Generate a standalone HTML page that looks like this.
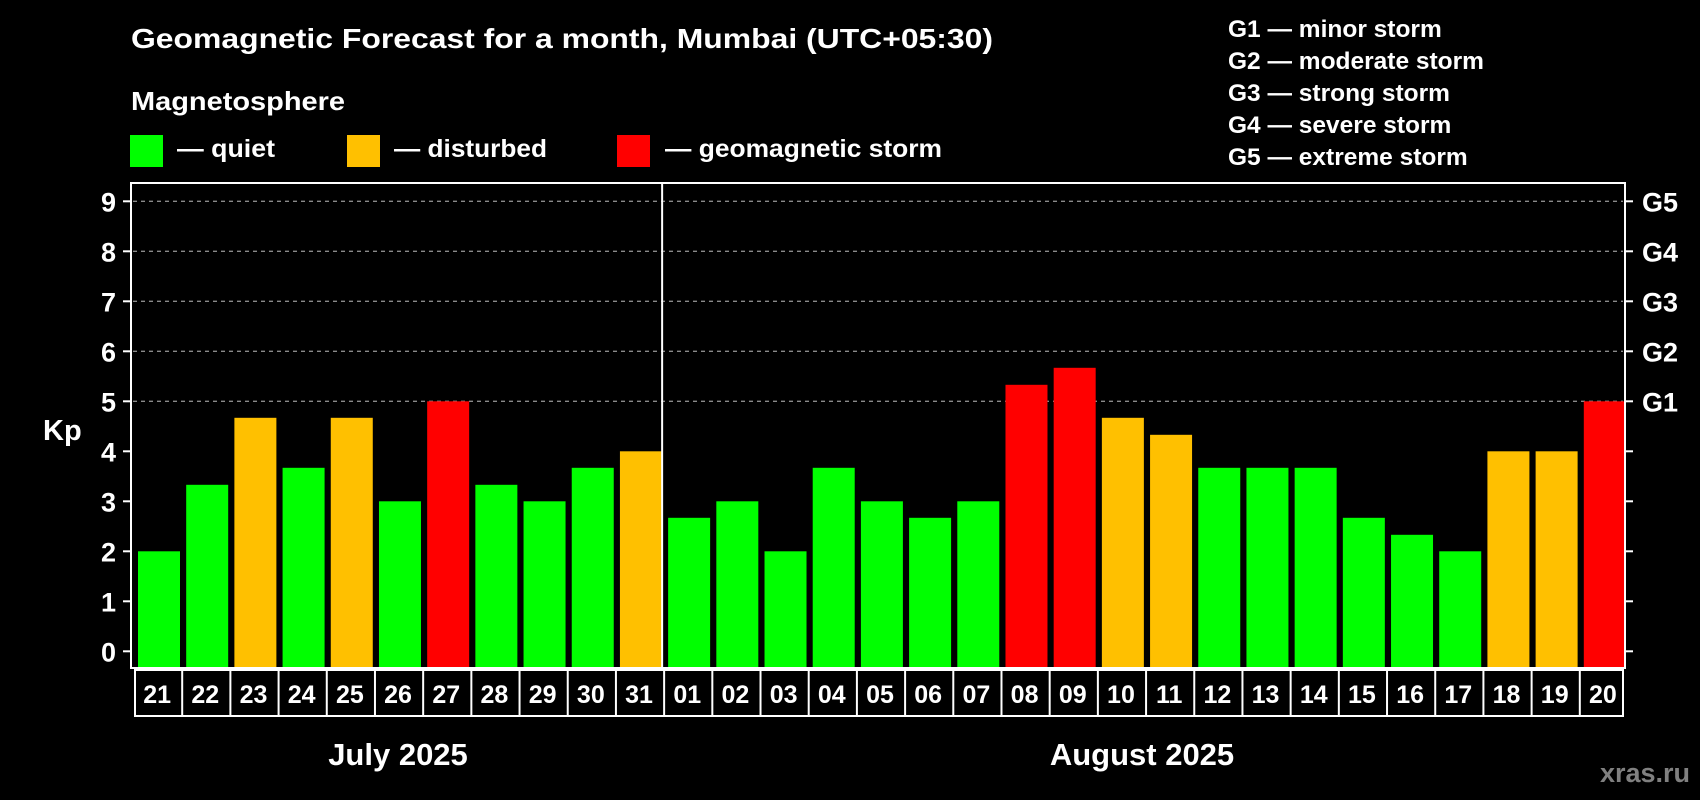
<!DOCTYPE html>
<html><head><meta charset="utf-8"><style>
html,body{margin:0;padding:0;background:#000;width:1700px;height:800px;overflow:hidden}
svg{display:block;font-family:"Liberation Sans",Arial,sans-serif;font-weight:bold}
</style></head><body>
<svg id="chart" width="1700" height="800" viewBox="0 0 1700 800">
<rect width="1700" height="800" fill="#000"/>
<text x="131" y="48" font-size="28" fill="#fff" textLength="862" lengthAdjust="spacingAndGlyphs">Geomagnetic Forecast for a month, Mumbai (UTC+05:30)</text>
<text x="131" y="110" font-size="26" fill="#fff" textLength="214" lengthAdjust="spacingAndGlyphs">Magnetosphere</text>
<g>
<rect x="130" y="135" width="33" height="32" fill="#00ff00"/>
<text x="177" y="157" font-size="25" fill="#fff" textLength="98" lengthAdjust="spacingAndGlyphs">— quiet</text></g>
<g>
<rect x="347" y="135" width="33" height="32" fill="#ffc000"/>
<text x="394" y="157" font-size="25" fill="#fff" textLength="153" lengthAdjust="spacingAndGlyphs">— disturbed</text></g>
<g>
<rect x="617" y="135" width="33" height="32" fill="#ff0000"/>
<text x="665" y="157" font-size="25" fill="#fff" textLength="277" lengthAdjust="spacingAndGlyphs">— geomagnetic storm</text></g>
<g font-size="24.5" fill="#fff">
<text x="1228" y="37">G1 — minor storm</text>
<text x="1228" y="69">G2 — moderate storm</text>
<text x="1228" y="101">G3 — strong storm</text>
<text x="1228" y="133">G4 — severe storm</text>
<text x="1228" y="165">G5 — extreme storm</text>
</g>
<text x="43" y="440" font-size="29" fill="#fff">Kp</text>
<g id="grid"></g><g id="bars"></g><g id="axes"></g><g id="dates"></g>
<text x="398" y="765" font-size="31" fill="#fff" text-anchor="middle">July 2025</text>
<text x="1142" y="765" font-size="31" fill="#fff" text-anchor="middle">August 2025</text>
<text x="1690" y="782" font-size="27" fill="#808080" text-anchor="end">xras.ru</text>
</svg>
<script>
const days = ["21","22","23","24","25","26","27","28","29","30","31","01","02","03","04","05","06","07","08","09","10","11","12","13","14","15","16","17","18","19","20"];
const kpValues = [2,3.33,4.67,3.67,4.67,3,5,3.33,3,3.67,4,2.67,3,2,3.67,3,2.67,3,5.33,5.67,4.67,4.33,3.67,3.67,3.67,2.67,2.33,2,4,4,5];
const yTicks = [0,1,2,3,4,5,6,7,8,9];
const gLabels = ["G1","G2","G3","G4","G5"];
const gLevels = [5,6,7,8,9];
const monthSplitIndex = 11;

const NS="http://www.w3.org/2000/svg";
const L=131,R=1625,T=183,B=668;
const Y0=651.3,PX=50;
const n=days.length, pitch=(R-L)/n;
const y=v=>Y0-v*PX;
const x=i=>L+i*pitch;
function mk(tag,attrs,parent){const e=document.createElementNS(NS,tag);for(const k in attrs)e.setAttribute(k,attrs[k]);parent.appendChild(e);return e;}
const grid=document.getElementById('grid'),bars=document.getElementById('bars'),axes=document.getElementById('axes'),dates=document.getElementById('dates');
yTicks.forEach(t=>{
  if(t>=5){const g=mk('line',{x1:L+2,x2:R-2,y1:y(t),y2:y(t),stroke:'#8a8a8a','stroke-width':1.3,'stroke-dasharray':'4 4'},grid);
    
    }
  const tl=mk('line',{x1:L-8,x2:L,y1:y(t),y2:y(t),stroke:'#fff','stroke-width':2},axes);
  
  
  const tr=mk('line',{x1:R,x2:R+8,y1:y(t),y2:y(t),stroke:'#fff','stroke-width':2},axes);
  
  
  const lb=mk('text',{x:116,y:y(t)+10,'font-size':27,fill:'#fff','text-anchor':'end'},axes);
  lb.textContent=t;
  
  
});
gLabels.forEach((g,i)=>{
  const t=mk('text',{x:1642,y:y(gLevels[i])+10,'font-size':27,fill:'#fff'},axes);
  t.textContent=g;
  
  
});
kpValues.forEach((v,i)=>{
  const c=v>=5?'#ff0000':(v>=4?'#ffc000':'#00ff00');
  const r=mk('rect',{x:x(i)+7,y:y(v),width:42,height:Y0+16-y(v),fill:c},bars);
  
  
});
const fr=mk('rect',{x:L,y:T,width:R-L,height:B-T,fill:'none',stroke:'#fff','stroke-width':2},axes);


const dv=mk('line',{x1:x(monthSplitIndex)+1,x2:x(monthSplitIndex)+1,y1:T,y2:B,stroke:'#fff','stroke-width':2},axes);


const db=mk('rect',{x:L+4,y:670,width:R-L-6,height:46,fill:'none',stroke:'#fff','stroke-width':2},dates);


days.forEach((d,i)=>{
  if(i>0){const s=mk('line',{x1:x(i)+3,x2:x(i)+3,y1:670,y2:716,stroke:'#fff','stroke-width':2},dates);
    
    }
  const t=mk('text',{x:x(i)+pitch/2+2,y:703,'font-size':25,fill:'#fff','text-anchor':'middle'},dates);
  t.textContent=d;
  
  
});
</script>
</body></html>
